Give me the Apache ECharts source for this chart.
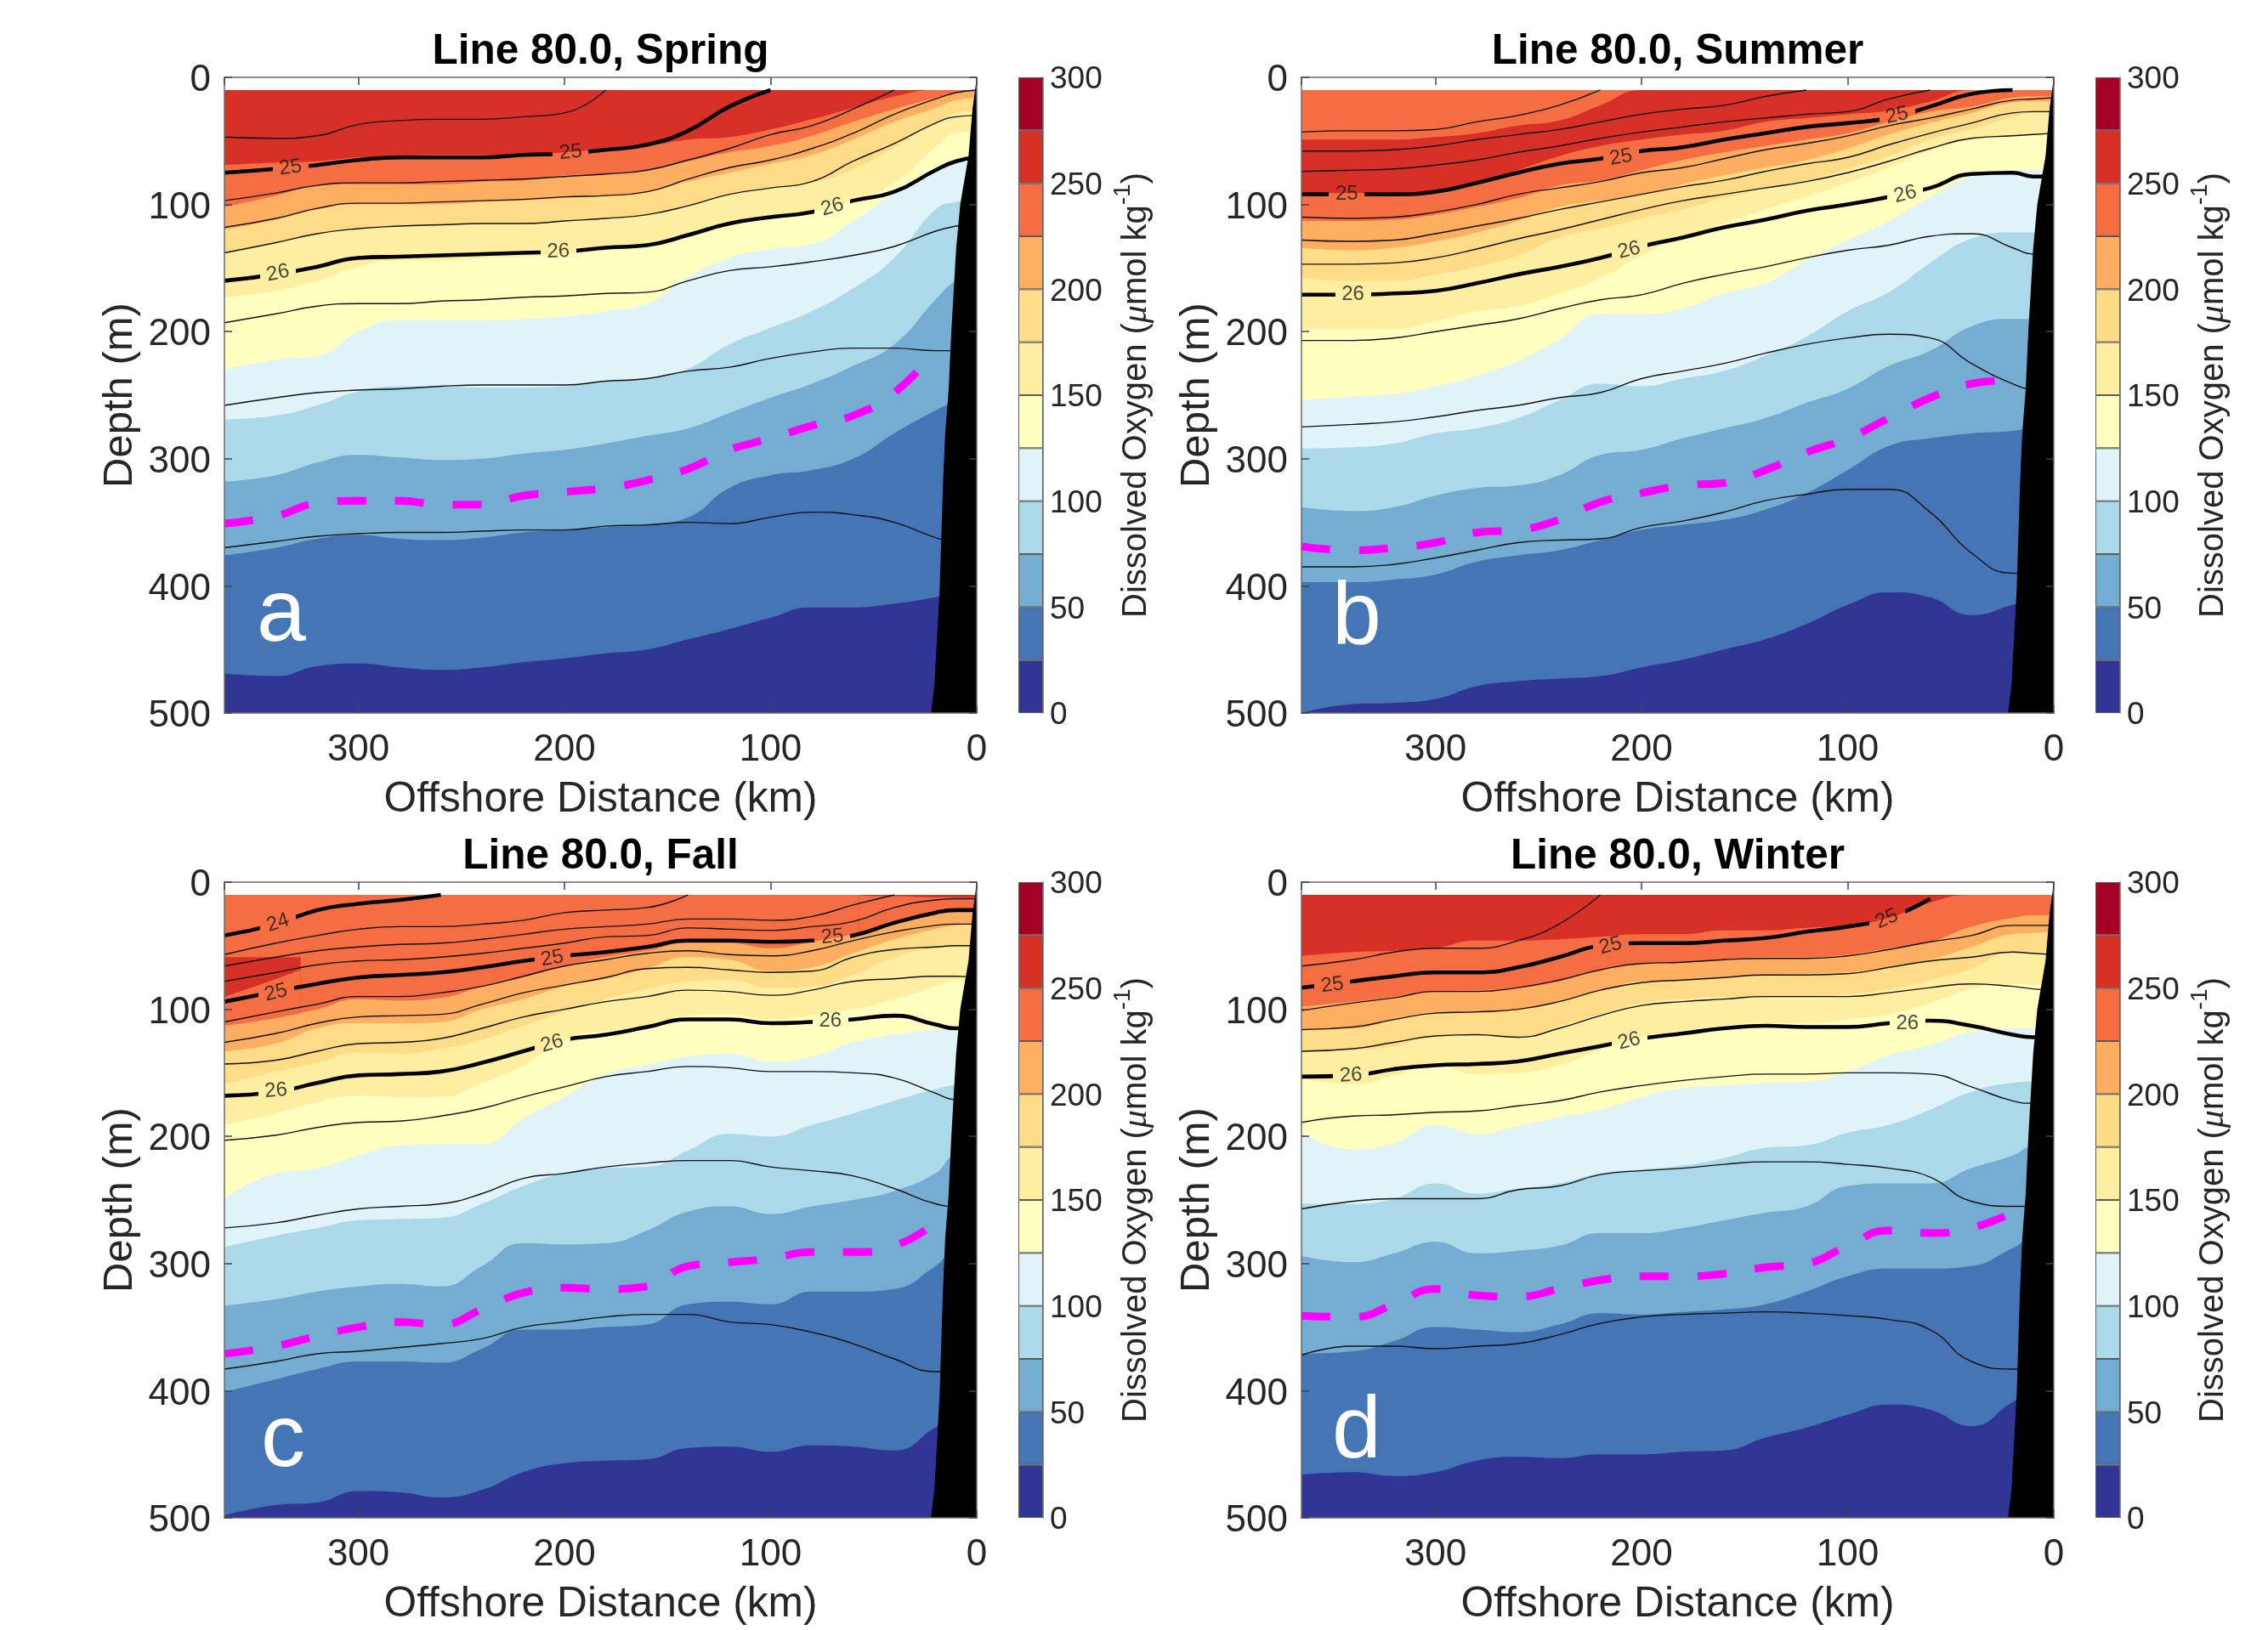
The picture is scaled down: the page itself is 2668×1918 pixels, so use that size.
<!DOCTYPE html>
<html>
<head>
<meta charset="utf-8">
<title>Line 80.0</title>
<script src="https://cdn.jsdelivr.net/npm/echarts@6/dist/echarts.min.js"></script>
<style>
  html, body { margin: 0; background: #fff; }
  #chart { width: 2668px; height: 1918px; }
</style>
</head>
<body>
<div id="chart"></div>
<script>
// offshore distance of every column below
const km = [365,340,320,300,280,260,240,220,200,180,160,140,120,100,80,60,40,20,10,0]
const surface = [10,10,10,10,10,10,10,10,10,10,10,10,10,10,10,10,10,10,10,10]
const _ = null

const o2Bands = [25,25,25,25,25,25,25,25,25,25,25,25]
const o2Colors = ['#313695','#4575b4','#74add1','#abd9e9','#e0f3f8','#ffffbf','#feeea2','#fedb87','#fdae61','#f46d43','#d73027','#a50026']

// shelf, same in all four sections
const shelfKm = [0,0.8,2,4,8,10,12.4,13.6,15.3,16.4,18,20.5,22.2]
const shelfDepth = [0,10,24,62,100,135,202,245,280,321,403,477,500]

// Spring: depth of each oxygen level
const aO250 = [69,67,66,63,62,61,61,60,59,56,54,49,47,41,33,24,15,10,10,10]
const aO225 = [102,93,85,84,84,84,82,81,77,76,73,66,59,54,46,35,25,16,12,11]
const aO200 = [120,112,104,100,100,100,98,97,95,93,90,82,75,68,61,49,35,24,18,16]
const aO175 = [139,130,123,119,117,116,115,115,113,111,108,101,92,86,83,72,55,36,28,26]
const aO150 = [173,168,160,149,144,144,142,141,139,136,133,126,116,111,106,97,83,55,44,43]
const aO125 = [230,222,219,200,191,191,191,190,188,184,178,157,142,135,131,113,91,75,67,64]
const aO100 = [269,266,258,247,243,243,244,244,243,239,237,229,210,197,184,166,142,104,98,96]
const aO75 = [318,313,303,297,299,301,300,296,293,288,282,276,264,252,241,227,210,175,160,155]
const aO50 = [376,370,363,360,363,364,362,358,356,354,352,346,323,313,309,300,280,262,255,250]
const aO25 = [469,471,463,461,464,466,464,460,457,453,450,442,434,425,417,417,414,409,405,405]
// Spring: density contours
const aT1 = [47,48,46,37,34,33,33,31,28,10,_,_,_,_,_,_,_,_,_,_]
const a25 = [75,72,69,65,63,63,63,61,60,57,53,42,23,10,_,_,_,_,_,_]
const aT2 = [97,91,85,83,83,82,81,80,78,76,73,65,56,45,38,25,10,_,_,_]
const aT3 = [118,111,103,99,99,98,97,96,94,93,90,80,71,65,56,44,29,17,12,10]
const aT4 = [138,130,123,119,117,116,115,115,113,111,108,101,92,87,82,66,52,36,31,30]
const a26 = [160,155,149,142,141,140,139,138,137,134,132,124,115,110,106,97,90,73,66,63]
const aT5 = [193,186,180,178,178,176,175,173,172,170,169,160,152,149,145,140,133,121,117,115]
const aT6 = [258,252,248,246,245,243,242,242,242,239,237,231,228,221,216,213,213,215,215,215]
const aT7 = [370,365,361,359,358,358,357,356,356,353,352,350,351,346,342,344,350,362,365,365]
const aHypoxic = [351,345,335,333,333,336,336,329,326,323,317,308,293,284,274,266,248,215,_,_]
const aLabels = [[333,71,'25',7],[197,59,'25',5],[339,154,'26',12],[203,137,'26',2],[70,102,'26',16]]

// Summer
const bRedTop = [49,49,49,47,44,38,34,22,10,10,10,10,10,10,10,10,10,10,10,10]
const bO250 = [91,91,91,89,83,73,62,54,49,45,42,35,32,29,26,19,10,10,10,10]
const bO225 = [113,113,112,108,102,95,85,81,73,65,59,54,49,44,35,27,23,16,15,15]
const bO200 = [134,136,134,129,122,113,102,97,92,84,77,71,65,56,45,36,28,20,19,19]
const bO175 = [158,160,160,155,149,140,126,119,111,104,95,87,81,72,62,49,41,31,28,28]
const bO150 = [198,198,198,192,184,180,170,158,140,126,115,104,94,83,71,58,49,46,45,44]
const bO125 = [254,251,249,243,235,223,206,186,186,182,170,162,144,128,113,94,78,73,73,73]
const bO100 = [292,291,288,280,276,268,254,241,243,237,231,219,204,184,169,146,127,122,122,124]
const bO75 = [338,341,338,329,323,321,313,297,293,284,276,268,256,245,227,215,196,190,190,190]
const bO50 = [397,397,395,391,381,376,372,364,356,352,348,340,327,309,290,284,280,278,275,272]
const bO25 = [500,493,492,489,479,475,473,471,464,458,450,442,430,415,405,409,423,415,410,405]
const bT1 = [43,42,42,41,35,30,22,10,_,_,_,_,_,_,_,_,_,_,_,_]
const bT2 = [58,58,57,54,49,45,41,35,29,25,22,15,10,_,_,_,_,_,_,_]
const bT3 = [74,73,72,69,65,59,54,48,43,39,35,32,29,27,17,10,_,_,_,_]
const b25 = [92,92,92,90,83,75,68,64,58,55,49,44,39,36,32,23,13,10,_,_]
const bT4 = [110,111,110,106,100,92,87,82,75,71,64,57,52,46,38,32,25,18,17,16]
const bT5 = [128,129,128,123,117,111,104,98,92,86,81,74,68,63,53,44,36,28,27,27]
const bT6 = [147,147,146,142,135,127,120,112,104,97,92,87,82,75,66,56,48,46,45,44]
const b26 = [171,171,170,168,162,155,149,142,133,126,118,112,105,100,94,87,76,75,78,78]
const bT7 = [207,207,205,200,195,190,182,175,171,162,155,149,142,136,132,125,123,134,139,139]
const bT8 = [275,273,271,267,262,258,252,248,237,231,225,217,210,205,202,205,225,241,245,245]
const bT9 = [385,385,383,378,372,366,364,363,354,349,342,333,328,324,324,342,374,390,390,390]
const bHypoxic = [369,372,370,366,358,356,348,334,327,321,319,309,295,284,268,252,241,238,_,_]
const bLabels = [[343,92,'25',0],[210,63,'25',10],[76,30,'25',12],[340,171,'26',0],[206,136,'26',14],[72,92,'26',14]]

// Fall
const cPatchKm = [365,345,328]
const cPatchTop = [59,59,59]
const cPatchBottom = [90,79,69]
const cSliverKm = [57,50,40,20,10,0]
const cSliverTop = [10,10,10,10,10,10]
const cSliverBottom = [10,11,11,12,12,12]
const cO225 = [113,107,100,92,93,91,82,75,66,59,54,48,48,52,47,41,32,24,22,22]
const cO200 = [133,127,115,111,111,110,100,92,82,76,68,59,61,70,67,56,45,37,34,33]
const cO175 = [159,149,142,134,135,131,124,113,102,92,84,78,77,83,82,73,59,52,51,51]
const cO150 = [191,182,173,168,169,169,158,144,124,117,115,105,104,108,105,100,92,82,77,76]
const cO125 = [249,229,225,215,207,206,206,186,169,151,144,137,135,141,137,126,120,116,115,115]
const cO100 = [287,278,272,266,265,264,253,239,229,225,224,211,198,200,191,182,172,163,160,160]
const cO75 = [333,328,322,318,316,318,302,284,285,284,274,259,255,261,255,250,243,229,215,215]
const cO50 = [401,391,383,377,377,378,367,352,352,350,348,332,330,332,322,322,320,302,290,290]
const cO25 = [498,490,488,479,480,484,478,464,457,455,454,445,444,448,443,444,447,429,420,420]
const c24 = [42,33,22,17,14,10,_,_,_,_,_,_,_,_,_,_,_,_,_,_]
const cT1 = [57,48,42,37,35,35,33,30,24,22,20,10,_,_,_,_,_,_,_,_]
const cT2 = [66,59,54,51,49,48,45,41,37,35,33,29,29,30,27,18,10,_,_,_]
const cT3 = [78,71,65,62,61,59,56,52,48,43,42,36,37,38,35,31,20,14,13,13]
const c25 = [94,86,80,75,73,71,67,62,58,55,51,46,46,47,46,42,32,24,22,22]
const cT4 = [110,102,96,90,90,87,82,74,66,61,56,54,57,58,54,46,39,34,33,33]
const cT5 = [126,119,111,106,105,104,96,87,81,75,68,67,69,71,70,59,53,51,50,50]
const cT6 = [143,140,133,127,126,123,115,106,100,94,90,85,86,89,85,78,76,74,74,75]
const c26 = [168,165,158,152,151,149,142,133,124,120,114,108,108,111,110,108,105,112,115,115]
const cT7 = [203,199,193,189,188,184,178,169,161,153,149,145,146,149,149,150,154,166,171,171]
const cT8 = [272,268,262,257,255,253,245,233,229,224,221,219,219,224,227,231,241,253,255,255]
const cT9 = [383,377,371,369,366,363,359,350,346,342,340,340,346,348,354,363,375,385,385,385]
const cHypoxic = [371,365,357,350,346,348,336,323,319,320,318,302,299,296,291,291,286,268,_,_]
const cLabels = [[339,32,'24',18],[340,87,'25',14],[206,60,'25',10],[70,43,'25',5],[340,164,'26',5],[206,127,'26',16],[71,109,'26',0]]

// Winter
const dO250 = [58,55,54,52,46,46,45,43,41,41,38,38,36,34,28,16,10,10,10,10]
const dO225 = [98,94,90,86,85,83,78,69,64,63,61,59,59,57,52,47,35,28,26,26]
const dO200 = [115,115,108,103,103,100,94,85,78,77,75,73,72,71,66,61,51,41,40,39]
const dO175 = [133,132,129,121,120,122,113,104,95,92,90,90,90,88,84,77,68,55,55,55]
const dO150 = [154,159,152,144,151,150,144,132,122,117,113,111,111,108,104,95,84,80,81,82]
const dO125 = [197,210,205,191,198,192,185,179,169,162,160,158,157,149,136,128,118,115,115,115]
const dO100 = [253,253,249,237,245,241,237,229,226,223,217,209,207,197,191,179,165,158,157,157]
const dO75 = [294,299,292,283,292,290,286,276,276,272,266,260,255,239,237,237,225,215,208,208]
const dO50 = [371,369,361,350,352,354,348,339,340,338,336,332,322,310,304,304,302,288,280,280]
const dO25 = [466,464,467,464,455,452,453,450,450,448,447,437,429,419,411,415,428,409,400,395]
const dT1 = [66,61,55,52,52,46,33,10,_,_,_,_,_,_,_,_,_,_,_,_]
const d25 = [83,78,74,71,71,67,59,50,48,48,46,44,39,35,28,13,_,_,_,_]
const dT2 = [101,95,91,86,86,83,77,69,64,63,61,60,60,58,53,47,42,34,34,34]
const dT3 = [116,114,108,103,102,100,94,85,79,77,75,73,73,72,67,62,59,55,56,57]
const dT4 = [133,131,126,121,120,122,115,105,97,94,92,90,90,90,87,83,80,82,84,85]
const d26 = [153,152,147,144,143,141,135,129,123,119,115,113,114,114,111,109,113,120,122,122]
const dT5 = [189,184,183,181,180,176,172,165,160,156,153,151,151,150,150,151,161,172,174,174]
const dT6 = [257,251,249,249,249,242,239,230,227,225,222,220,220,222,225,232,251,255,255,255]
const dT7 = [372,365,365,367,365,363,356,347,342,340,339,338,339,341,344,352,377,383,383,383]
const dHypoxic = [341,342,332,320,325,326,320,313,310,310,308,303,300,286,274,276,272,260,_,_]
const dLabels = [[350,81,'25',8],[215,50,'25',14],[81,29,'25',24],[341,152,'26',3],[206,125,'26',14],[71,111,'26',0]]

const c = { o250:'#d73027', o225:'#f46d43', o200:'#fdae61', o175:'#fedb87', o150:'#feeea2', o125:'#ffffbf', o100:'#e0f3f8', o75:'#abd9e9', o50:'#74add1', o25:'#4575b4', o0:'#313695' }

const panels = [
  { title: 'Line 80.0, Spring', letter: 'a', left: 264, top: 91, cbLeft: 1198, letterX: 330, letterY: 765,
    fills: [[c.o250,km,surface],[c.o225,km,aO250],[c.o200,km,aO225],[c.o175,km,aO200],[c.o150,km,aO175],[c.o125,km,aO150],[c.o100,km,aO125],[c.o75,km,aO100],[c.o50,km,aO75],[c.o25,km,aO50],[c.o0,km,aO25]],
    thin: [aT1,aT2,aT3,aT4,aT5,aT6,aT7], thick: [['25',a25],['26',a26]], hypoxic: aHypoxic, labels: aLabels },
  { title: 'Line 80.0, Summer', letter: 'b', left: 1531, top: 91, cbLeft: 2465, letterX: 1595, letterY: 768,
    fills: [[c.o225,km,surface],[c.o250,km,bRedTop],[c.o225,km,bO250],[c.o200,km,bO225],[c.o175,km,bO200],[c.o150,km,bO175],[c.o125,km,bO150],[c.o100,km,bO125],[c.o75,km,bO100],[c.o50,km,bO75],[c.o25,km,bO50],[c.o0,km,bO25]],
    thin: [bT1,bT2,bT3,bT4,bT5,bT6,bT7,bT8,bT9], thick: [['25',b25],['26',b26]], hypoxic: bHypoxic, labels: bLabels },
  { title: 'Line 80.0, Fall', letter: 'c', left: 264, top: 1038, cbLeft: 1198, letterX: 335, letterY: 1736,
    fills: [[c.o225,km,surface],[c.o250,cPatchKm,cPatchTop],[c.o225,cPatchKm,cPatchBottom],[c.o250,cSliverKm,cSliverTop],[c.o225,cSliverKm,cSliverBottom],[c.o200,km,cO225],[c.o175,km,cO200],[c.o150,km,cO175],[c.o125,km,cO150],[c.o100,km,cO125],[c.o75,km,cO100],[c.o50,km,cO75],[c.o25,km,cO50],[c.o0,km,cO25]],
    thin: [cT1,cT2,cT3,cT4,cT5,cT6,cT7,cT8,cT9], thick: [['24',c24],['25',c25],['26',c26]], hypoxic: cHypoxic, labels: cLabels },
  { title: 'Line 80.0, Winter', letter: 'd', left: 1531, top: 1038, cbLeft: 2465, letterX: 1595, letterY: 1726,
    fills: [[c.o250,km,surface],[c.o225,km,dO250],[c.o200,km,dO225],[c.o175,km,dO200],[c.o150,km,dO175],[c.o125,km,dO150],[c.o100,km,dO125],[c.o75,km,dO100],[c.o50,km,dO75],[c.o25,km,dO50],[c.o0,km,dO25]],
    thin: [dT1,dT2,dT3,dT4,dT5,dT6,dT7], thick: [['25',d25],['26',d26]], hypoxic: dHypoxic, labels: dLabels }
]

const FONT = '"Liberation Sans", Arial, sans-serif'
const INK = '#262626'
const FRAME = '#6a6a6a'
const PW = 885, PH = 748, CBW = 29
const KM_MAX = 365
const GAP = 21  // half width of the break a contour label makes in its line, px

const grids = [], xAxes = [], yAxes = [], series = [], titles = [], graphics = []

function zip(xs, ys) {
  return xs.map((x, i) => [x, ys[i]])
}

// black stroke that goes transparent under each of the line's labels
function gappedStroke(p, level) {
  const gaps = p.labels.filter(l => l[2] === level).map(l => 1 - l[0] / KM_MAX).sort((a, b) => a - b)
  const hw = GAP / PW
  const stops = [{ offset: 0, color: '#000' }]
  gaps.forEach(g => {
    stops.push({ offset: g - hw, color: '#000' }, { offset: g - hw, color: 'rgba(0,0,0,0)' })
    stops.push({ offset: g + hw, color: 'rgba(0,0,0,0)' }, { offset: g + hw, color: '#000' })
  })
  stops.push({ offset: 1, color: '#000' })
  return { type: 'linear', x: p.left, y: 0, x2: p.left + PW, y2: 0, global: true, colorStops: stops }
}

function frameAxis(extra) {
  return Object.assign({
    type: 'value', z: 10,
    axisLine: { show: true, onZero: false, lineStyle: { color: FRAME, width: 1.5 } },
    axisTick: { show: true, inside: true, length: 9, lineStyle: { color: '#444', width: 1.5 } },
    splitLine: { show: false }
  }, extra)
}

panels.forEach(p => {
  const gi = grids.length
  const xi = xAxes.length
  const yi = yAxes.length
  grids.push({ left: p.left, top: p.top, width: PW, height: PH, containLabel: false })

  xAxes.push(frameAxis({
    gridIndex: gi, position: 'bottom', inverse: true, min: 0, max: KM_MAX, interval: 100,
    name: 'Offshore Distance (km)', nameLocation: 'middle', nameGap: 77,
    nameTextStyle: { fontFamily: FONT, fontSize: 49.7, color: INK },
    axisLabel: { fontFamily: FONT, fontSize: 44, color: INK, margin: 22, showMaxLabel: false }
  }))
  xAxes.push(frameAxis({
    gridIndex: gi, position: 'top', inverse: true, min: 0, max: KM_MAX, interval: 100,
    axisLabel: { show: false }
  }))
  yAxes.push(frameAxis({
    gridIndex: gi, position: 'left', inverse: true, min: 0, max: 500, interval: 100,
    name: 'Depth (m)', nameLocation: 'middle', nameGap: 98,
    nameTextStyle: { fontFamily: FONT, fontSize: 49, color: INK },
    // top-aligned with a short line box: sits the numbers a little under their tick
    axisLabel: { fontFamily: FONT, fontSize: 44, color: INK, margin: 16, verticalAlign: 'top', lineHeight: 8 }
  }))
  yAxes.push(frameAxis({
    gridIndex: gi, position: 'right', inverse: true, min: 0, max: 500, interval: 100,
    axisLabel: { show: false }
  }))

  const onAxes = { xAxisIndex: xi, yAxisIndex: yi }

  // oxygen bands, painted top down, each one filling to the bottom of the section
  p.fills.forEach(f => {
    series.push(Object.assign({
      type: 'line', data: zip(f[1], f[2]), smooth: 0.5, showSymbol: false, silent: true, z: 2,
      lineStyle: { width: 0 },
      areaStyle: { color: f[0], opacity: 1, origin: 'end' }
    }, onAxes))
  })

  p.thin.forEach(d => {
    series.push(Object.assign({
      type: 'line', data: zip(km, d), smooth: 0.5, showSymbol: false, silent: true, z: 3,
      lineStyle: { color: '#111', width: 1.4 }
    }, onAxes))
  })
  p.thick.forEach(t => {
    series.push(Object.assign({
      type: 'line', data: zip(km, t[1]), smooth: 0.5, showSymbol: false, silent: true, z: 3,
      lineStyle: { color: gappedStroke(p, t[0]), width: 4.6 }
    }, onAxes))
  })
  series.push(Object.assign({
    type: 'line', data: zip(km, p.hypoxic), smooth: 0.5, showSymbol: false, silent: true, z: 3,
    lineStyle: { color: '#ff00ff', width: 9, type: [34, 34], cap: 'butt' }
  }, onAxes))

  // shelf
  series.push(Object.assign({
    type: 'line', data: zip(shelfKm, shelfDepth), showSymbol: false, silent: true, z: 4,
    lineStyle: { width: 0 },
    areaStyle: { color: '#000', opacity: 1, origin: 'end' }
  }, onAxes))

  // contour labels
  series.push(Object.assign({
    type: 'scatter', symbolSize: 1, silent: true, z: 5, itemStyle: { color: 'transparent' },
    data: p.labels.map(l => ({
      value: [l[0], l[1]],
      label: {
        show: true, position: 'inside', formatter: l[2], rotate: l[3],
        fontFamily: FONT, fontSize: 24, color: '#1a1a1a'
      }
    }))
  }, onAxes))

  titles.push({
    text: p.title, left: p.left + PW / 2 - 5, top: p.top - 35, textAlign: 'center', textVerticalAlign: 'middle',
    textStyle: { fontFamily: FONT, fontSize: 49.5, fontWeight: 'bold', color: '#000' }
  })
  graphics.push({
    type: 'text', z: 20, left: p.letterX - 28, top: p.letterY - 92,
    style: { text: p.letter, fontFamily: FONT, fontSize: 104, fill: '#fff' }
  })

  // colour bar
  const cbGrid = grids.length
  const cbX = xAxes.length
  const cbY = yAxes.length
  grids.push({ left: p.cbLeft, top: p.top, width: CBW, height: PH })
  xAxes.push({ type: 'category', gridIndex: cbGrid, data: ['o2'], show: false })
  yAxes.push({
    type: 'value', gridIndex: cbGrid, position: 'right', min: 0, max: 300, interval: 50, z: 10,
    name: '{n|Dissolved Oxygen (}{m|\u03bc}{n|mol kg}{s|-1}{n|)}',
    nameLocation: 'middle', nameGap: 80, nameRotate: 90,
    nameTextStyle: {
      rich: {
        n: { fontFamily: FONT, fontSize: 40, color: INK, lineHeight: 60 },
        m: { fontFamily: '"Liberation Serif", serif', fontStyle: 'italic', fontSize: 42, color: INK, lineHeight: 60 },
        s: { fontFamily: FONT, fontSize: 28, color: INK, verticalAlign: 'top', lineHeight: 60 }
      }
    },
    axisLine: { show: true, onZero: false, lineStyle: { color: FRAME, width: 1.5 } },
    axisTick: { show: false },
    splitLine: { show: false },
    axisLabel: { fontFamily: FONT, fontSize: 37, color: INK, margin: 8, verticalAlign: 'top', lineHeight: 6 }
  })
  o2Bands.forEach((b, i) => {
    series.push({
      type: 'bar', xAxisIndex: cbX, yAxisIndex: cbY, stack: 'cb' + cbGrid, data: [b], barWidth: '100%', silent: true,
      itemStyle: { color: o2Colors[i], borderColor: '#5a5a5a', borderWidth: 1 }
    })
  })
})

const chart = echarts.init(document.getElementById('chart'), null, { renderer: 'canvas' })
chart.setOption({
  animation: false,
  backgroundColor: '#fff',
  title: titles,
  grid: grids,
  xAxis: xAxes,
  yAxis: yAxes,
  series: series,
  graphic: graphics
})
</script>
</body>
</html>
